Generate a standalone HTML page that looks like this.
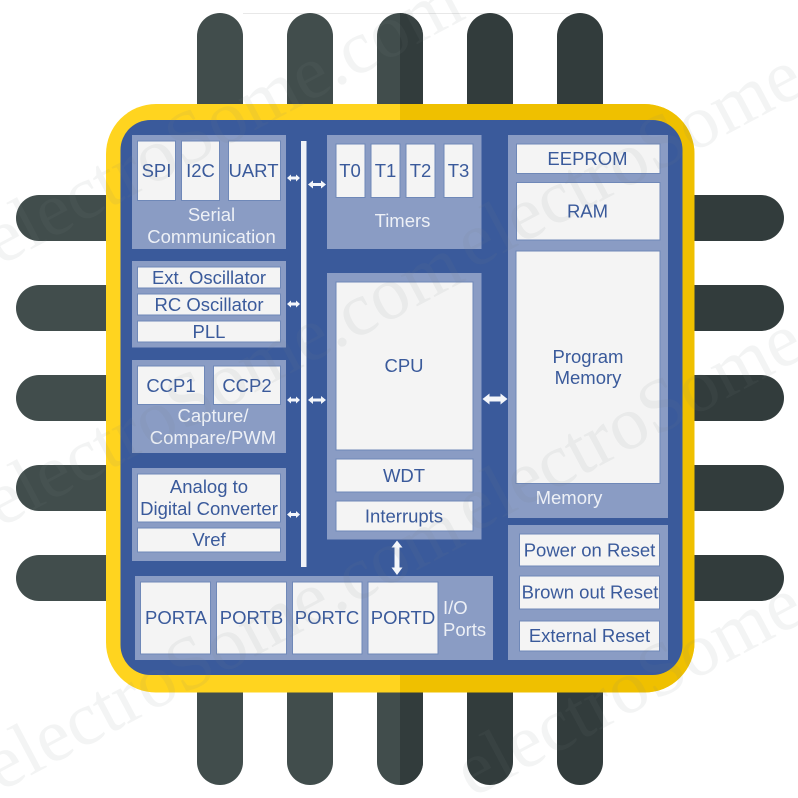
<!DOCTYPE html>
<html><head><meta charset="utf-8"><style>
html,body{margin:0;padding:0;background:#fff;width:798px;height:798px;overflow:hidden}
svg{display:block}
text{font-family:"Liberation Sans",sans-serif}
.b text,text.b{fill:#3a5a9b;font-size:18.5px;text-anchor:middle}
text.p{fill:#edf0f6;font-size:18.5px;text-anchor:middle}
.w{fill:#f4f4f4;stroke:#6f88b8;stroke-width:1}
.panel{fill:#8a9cc4}
.wm text{font-family:"Liberation Serif",serif;font-size:76px;fill:#7f8a88;fill-opacity:.09}
</style></head><body>
<svg width="798" height="798" viewBox="0 0 798 798" xmlns="http://www.w3.org/2000/svg">
<rect x="243" y="13" width="327" height="1" fill="#e8e8e8"/>
<g fill="#414d4c">
<rect x="197" y="13" width="46" height="140" rx="23"/><rect x="287" y="13" width="46" height="140" rx="23"/><rect x="377" y="13" width="46" height="140" rx="23"/>
<rect x="197" y="645" width="46" height="140" rx="23"/><rect x="287" y="645" width="46" height="140" rx="23"/><rect x="377" y="645" width="46" height="140" rx="23"/>
<rect x="16" y="195" width="140" height="46" rx="23"/><rect x="16" y="285" width="140" height="46" rx="23"/><rect x="16" y="375" width="140" height="46" rx="23"/><rect x="16" y="465" width="140" height="46" rx="23"/><rect x="16" y="555" width="140" height="46" rx="23"/>
</g>
<g fill="#323c3c">
<path d="M400 13a23 23 0 0 1 23 23V150H400Z"/><path d="M400 785a23 23 0 0 0 23-23V650H400Z"/>
<rect x="467" y="13" width="46" height="140" rx="23"/><rect x="557" y="13" width="46" height="140" rx="23"/>
<rect x="467" y="645" width="46" height="140" rx="23"/><rect x="557" y="645" width="46" height="140" rx="23"/>
<rect x="644" y="195" width="140" height="46" rx="23"/><rect x="644" y="285" width="140" height="46" rx="23"/><rect x="644" y="375" width="140" height="46" rx="23"/><rect x="644" y="465" width="140" height="46" rx="23"/><rect x="644" y="555" width="140" height="46" rx="23"/>
</g>
<rect x="106" y="104" width="588.5" height="588.5" rx="50" fill="#ffd41f"/>
<path d="M400 104H644.500a50 50 0 0 1 50 50V642.500a50 50 0 0 1-50 50H400Z" fill="#efc000"/>
<rect x="120.500" y="120" width="562" height="555" rx="30" fill="#3a5a9b"/>

<g class="panel">
<rect x="132" y="135" width="154" height="114"/>
<rect x="132" y="261" width="154" height="86.500"/>
<rect x="132" y="360" width="154" height="93"/>
<rect x="132" y="468" width="154" height="93"/>
<rect x="327" y="135" width="154.500" height="114"/>
<rect x="327" y="273" width="154.500" height="266.500"/>
<rect x="508" y="135" width="160" height="383"/>
<rect x="508" y="525" width="160" height="135"/>
<rect x="135" y="576" width="358" height="84"/>
</g>
<g class="w">
<rect x="137.500" y="141" width="38" height="59.500"/><rect x="181.500" y="141" width="38" height="59.500"/><rect x="228.500" y="141" width="52" height="59.500"/>
<rect x="137.500" y="267" width="143" height="21"/><rect x="137.500" y="294" width="143" height="21"/><rect x="137.500" y="321" width="143" height="21"/>
<rect x="137.500" y="366" width="67" height="38.500"/><rect x="213.500" y="366" width="67" height="38.500"/>
<rect x="137.500" y="474" width="143" height="48"/><rect x="137.500" y="528" width="143" height="24"/>
<rect x="336" y="144" width="29" height="53.500"/><rect x="371" y="144" width="29" height="53.500"/><rect x="406" y="144" width="29" height="53.500"/><rect x="444" y="144" width="29" height="53.500"/>
<rect x="336" y="282" width="137" height="168"/><rect x="336" y="459" width="137" height="33"/><rect x="336" y="501" width="137" height="30"/>
<rect x="516.500" y="144" width="143.500" height="29.500"/><rect x="516.500" y="182.500" width="143.500" height="57.500"/><rect x="516" y="251" width="144" height="232.500"/>
<rect x="519.500" y="534" width="140" height="32"/><rect x="519.500" y="576" width="140" height="33"/><rect x="519.500" y="621" width="140" height="30"/>
<rect x="140.500" y="582" width="70" height="72"/><rect x="216.500" y="582" width="70" height="72"/><rect x="292.500" y="582" width="69.500" height="72"/><rect x="368" y="582" width="70" height="72"/>
</g>
<rect x="301" y="141" width="5.500" height="426" fill="#f0f2f7"/>

<g fill="#f4f6fa">
<path d="M287 178l4-3.500v2h5v-2l4 3.500-4 3.500v-2h-5v2Z"/>
<path d="M308 184.500l5-4v2.500h8v-2.500l5 4-5 4v-2.500h-8v2.500Z"/>
<path d="M287 304l4-3.500v2h5v-2l4 3.500-4 3.500v-2h-5v2Z"/>
<path d="M287 400l4-3.500v2h5v-2l4 3.500-4 3.500v-2h-5v2Z"/>
<path d="M308 400l5-4v2.500h8v-2.500l5 4-5 4v-2.500h-8v2.500Z"/>
<path d="M287 514.500l4-3.500v2h5v-2l4 3.500-4 3.500v-2h-5v2Z"/>
<path d="M482.500 399l7-5.500v3h11v-3l7 5.500-7 5.500v-3h-11v3Z"/>
<path d="M397 540.500l5.500 7h-3v20h3l-5.500 7.500-5.500-7.500h3v-20h-3Z"/>
</g>

<g class="b">
<text x="156.500" y="177">SPI</text><text x="200.500" y="177">I2C</text><text x="253.500" y="177">UART</text>
<text x="209" y="284">Ext. Oscillator</text><text x="209" y="311">RC Oscillator</text><text x="209" y="338">PLL</text>
<text x="171" y="392">CCP1</text><text x="247" y="392">CCP2</text>
<text x="209" y="493">Analog to</text><text x="209" y="515">Digital Converter</text><text x="209" y="546">Vref</text>
<text x="350" y="177">T0</text><text x="385.500" y="177">T1</text><text x="420.500" y="177">T2</text><text x="458.500" y="177">T3</text>
<text x="404" y="372">CPU</text><text x="404" y="482">WDT</text><text x="404" y="522.500">Interrupts</text>
<text x="587.500" y="165">EEPROM</text><text x="587.500" y="217.500">RAM</text><text x="588" y="363">Program</text><text x="588" y="384">Memory</text>
<text x="589.500" y="556.500">Power on Reset</text><text x="590" y="598.500">Brown out Reset</text><text x="589.500" y="642">External Reset</text>
<text x="176" y="624">PORTA</text><text x="251.500" y="624">PORTB</text><text x="327" y="624">PORTC</text><text x="403" y="624">PORTD</text>
</g>
<text class="p" x="211.500" y="221">Serial</text><text class="p" x="211.500" y="243">Communication</text>
<text class="p" x="402.500" y="227">Timers</text>
<text class="p" x="213" y="422">Capture/</text><text class="p" x="213" y="444">Compare/PWM</text>
<text class="p" x="569" y="504">Memory</text>
<text class="p" x="443" y="614" style="text-anchor:start">I/O</text><text class="p" x="443" y="636" style="text-anchor:start">Ports</text>

<g class="wm">
<text transform="translate(0 266) rotate(-28)">electroSome.com</text>
<text transform="translate(472 270) rotate(-28)">electroSome.com</text>
<text transform="translate(0 528) rotate(-28)">electroSome.com</text>
<text transform="translate(472 534) rotate(-28)">electroSome.com</text>
<text transform="translate(0 792) rotate(-28)">electroSome.com</text>
<text transform="translate(472 798) rotate(-28)">electroSome.com</text>
</g>
</svg>
</body></html>
